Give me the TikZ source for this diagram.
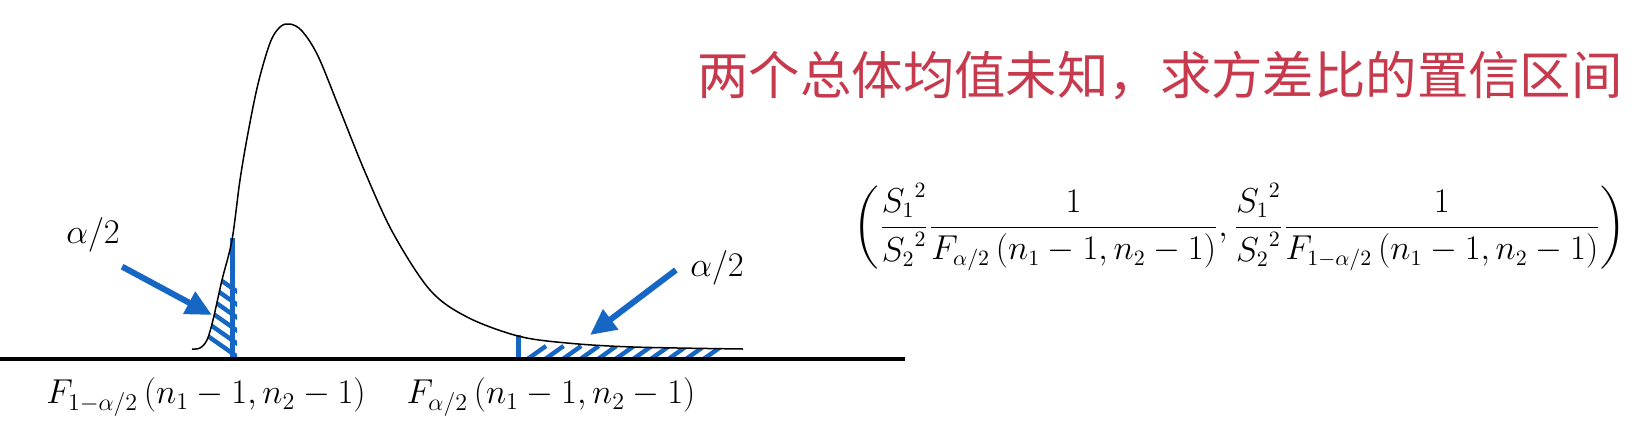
\documentclass[tikz,border=0pt]{standalone}
\usepackage{amsmath}
\usepackage{fontspec}
\newfontfamily\cjk{Noto Sans CJK SC}
\usetikzlibrary{arrows.meta}
\tikzset{>=latex}
\definecolor{myblue}{RGB}{22,102,196}
\definecolor{myred}{RGB}{199,57,76}
\tikzset{
  hatch/.style={myblue, line width=2.2pt},
  pointer/.style={myblue, line width=3pt, -{Triangle[length=13pt,width=12pt]}},
  mathlabel/.style={font=\fontsize{18.6}{22}\selectfont, inner sep=0pt},
}

\begin{document}
\begin{tikzpicture}[x=0.5pt, y=0.5pt]
    \useasboundingbox (0, 0) rectangle (1642, 436);

    % left tail
    \begin{scope}
        \clip plot[smooth] coordinates {(192, 87) (200, 88) (207, 96) (213, 116) (222, 156) (232, 196)}
            -- (237, 196) -- (237, 77) -- (192, 77) -- cycle;
        \foreach \y in {83, 96, 109, 122, 135, 148}
            \draw[hatch] (232, \y) ++(-60, 42) -- ++(70, -49);
    \end{scope}
    \draw[myblue, line width=2.5pt] (232, 77) -- (232, 198);

    % right tail
    \begin{scope}
        \clip (520, 77) -- (520, 99) -- plot[smooth] coordinates {(518, 99) (567, 93) (633, 89) (743, 87)}
            -- (710, 77) -- cycle;
        \foreach \k in {0,...,10}
            \draw[hatch] (522 + 17.6*\k, 73) -- ++(24, 17);
    \end{scope}
    \draw[myblue, line width=2.5pt] (518, 77) -- (518, 101);

    \draw[line width=0.75pt] plot[smooth, tension=0.55] coordinates {
        (192, 87) (200, 88) (207, 96) (213, 116) (222, 156) (232, 196) (240, 256)
        (248, 303) (258, 352) (270, 393) (280, 409) (290, 412) (302, 405) (318, 380)
        (340, 326) (365, 264) (393, 203) (430, 146) (467, 119)
        (518, 100) (567, 93) (633, 89) (743, 87)};

    \draw[line width=2pt] (0, 77) -- (905, 77);

    \node[mathlabel] (lowlab) at (206, 39) {$F_{1-\alpha/2}\,(n_1-1,n_2-1)$};
    \node[mathlabel] (uplab) at (551, 39) {$F_{\alpha/2}\,(n_1-1,n_2-1)$};

    \node[mathlabel] (leftalpha) at (93, 201) {$\alpha/2$};
    \node[mathlabel] (rightalpha) at (717, 168) {$\alpha/2$};
    \coordinate (lefttail) at (212, 121);
    \coordinate (righttail) at (590, 101);
    \draw[pointer] (leftalpha.south east) ++(2, -14) -- (lefttail);
    \draw[pointer] (rightalpha.west) ++(-14, -2) -- (righttail);

    \node[font=\cjk\fontsize{25.7}{29}\selectfont, text=myred, inner sep=0pt] (title) at (1160, 360)
        {两个总体均值未知，求方差比的置信区间};

    \node[font=\fontsize{16}{19}\selectfont, inner sep=0pt] (interval) at (1240, 209)
        {$\displaystyle\left(\frac{{S_1}^2}{{S_2}^2}\frac{1}{F_{\alpha/2}\,(n_1-1,n_2-1)},\frac{{S_1}^2}{{S_2}^2}\frac{1}{F_{1-\alpha/2}\,(n_1-1,n_2-1)}\right)$};
\end{tikzpicture}
\end{document}
